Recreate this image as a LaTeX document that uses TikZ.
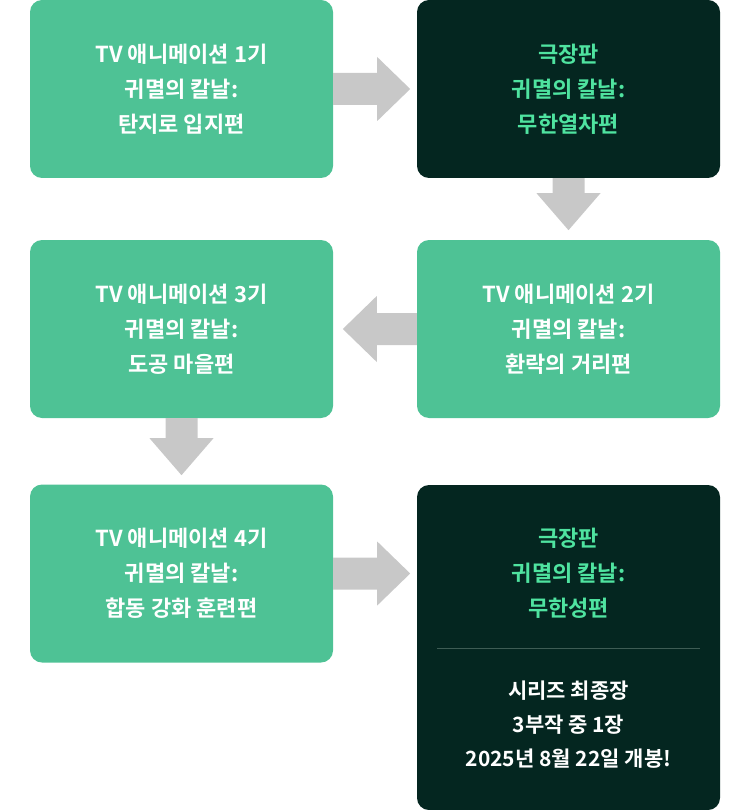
\documentclass[tikz,border=0pt]{standalone}
\usepackage{fontspec}
\setmainfont{Noto Sans CJK KR}[BoldFont={* Bold}]
\usetikzlibrary{positioning,calc}
\definecolor{boxgreen}{HTML}{4EC295}
\definecolor{boxdark}{HTML}{042620}
\definecolor{textgreen}{HTML}{4FE3A0}
\definecolor{arrowgray}{HTML}{C8C8C8}
\definecolor{rulegray}{HTML}{3E5C54}

\begin{document}
\begin{tikzpicture}[x=1pt,y=-1pt,
        stage/.style = {
            fill=boxgreen,
            rounded corners=12pt,
            minimum width=303pt,
            minimum height=178pt,
            inner sep=0pt,
            text=white,
            font=\fontsize{22}{35}\selectfont\bfseries,
            align=center
        },
        movie/.style = {
            stage,
            fill=boxdark,
            text=textgreen
        },
        rightarrow/.style = {fill=arrowgray},
        ]
%
        \useasboundingbox (0,0) rectangle (750,810);
%
        \node[stage] (tv1) at (181.5,89) {TV 애니메이션 1기\\귀멸의 칼날:\\탄지로 입지편};
        \node[movie] (mv1) at (568.5,89) {극장판\\귀멸의 칼날:\\무한열차편};
%
        \node[stage] (tv2) at (568.5,329) {TV 애니메이션 2기\\귀멸의 칼날:\\환락의 거리편};
        \node[stage] (tv3) at (181.5,329) {TV 애니메이션 3기\\귀멸의 칼날:\\도공 마을편};
%
        \node[stage] (tv4) at (181.5,573.5) {TV 애니메이션 4기\\귀멸의 칼날:\\합동 강화 훈련편};
        \node[movie, minimum height=325pt] (mv2) at (568.5,647.5) {};
%
        \node[text=textgreen, font=\fontsize{22}{35}\selectfont\bfseries, align=center] (mv2title) at (568.5,573) {극장판\\귀멸의 칼날:\\무한성편};
        \draw[rulegray, line width=1pt] (437,648) -- (700,648);
        \node[text=white, font=\fontsize{21}{34}\selectfont\bfseries, align=center] (mv2note) at (568.5,725) {시리즈 최종장\\3부작 중 1장\\2025년 8월 22일 개봉!};
%
        % block arrows
        \fill[rightarrow] ($(tv1.east)+(0,-16)$) -- ++(44,0) -- ++(0,-16) -- ++(33,32) -- ++(-33,32) -- ++(0,-16) -- ++(-44,0) -- cycle;
        \fill[rightarrow] ($(mv1.south)+(-16,0)$) -- ++(0,15) -- ++(-16,0) -- ++(32,37) -- ++(32,-37) -- ++(-16,0) -- ++(0,-15) -- cycle;
        \fill[rightarrow] ($(tv2.west)+(0,-16)$) -- ++(-40,0) -- ++(0,-17) -- ++(-34,33) -- ++(34,33) -- ++(0,-17) -- ++(40,0) -- cycle;
        \fill[rightarrow] ($(tv3.south)+(-16,0)$) -- ++(0,20) -- ++(-16,0) -- ++(32,37) -- ++(32,-37) -- ++(-16,0) -- ++(0,-20) -- cycle;
        \fill[rightarrow] ($(tv4.east)+(0,-16)$) -- ++(44,0) -- ++(0,-16) -- ++(33,32) -- ++(-33,32) -- ++(0,-16) -- ++(-44,0) -- cycle;
%
    \end{tikzpicture}
\end{document}
